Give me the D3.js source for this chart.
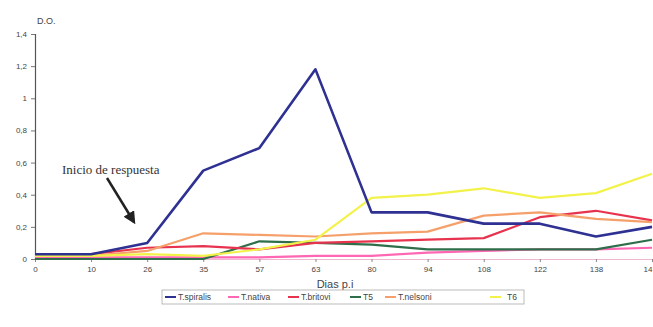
<!DOCTYPE html>
<html><head><meta charset="utf-8">
<script src="https://cdn.jsdelivr.net/npm/d3@7"></script>
<style>body{margin:0;background:#fff;overflow:hidden}</style>
</head><body><svg id="c" width="653" height="327"></svg>
<script>
const categories = ["0","10","26","35","57","63","80","94","108","122","138","14"];
const seriesNames = ["T.spiralis","T.nativa","T.britovi","T5","T.nelsoni","T6"];
const tSpiralis = [0.03,0.03,0.10,0.55,0.69,1.18,0.29,0.29,0.22,0.22,0.14,0.20];
const tNativa   = [0.01,0.01,0.01,0.01,0.01,0.02,0.02,0.04,0.05,0.06,0.06,0.07];
const tBritovi  = [0.02,0.03,0.07,0.08,0.06,0.10,0.11,0.12,0.13,0.26,0.30,0.24];
const t5        = [0.00,0.00,0.00,0.00,0.11,0.10,0.09,0.06,0.06,0.06,0.06,0.12];
const tNelsoni  = [0.02,0.02,0.05,0.16,0.15,0.14,0.16,0.17,0.27,0.29,0.25,0.23];
const t6        = [0.02,0.02,0.03,0.02,0.06,0.12,0.38,0.40,0.44,0.38,0.41,0.53];
const yTicks = [0,0.2,0.4,0.6,0.8,1,1.2,1.4];
const colors = ["#2e3192","#ff66b3","#e8334f","#2f6e4a","#f5a06a","#f2f24a"];
const allSeries = [tSpiralis,tNativa,tBritovi,t5,tNelsoni,t6];

const svg = d3.select("#c");
const x = d3.scalePoint().domain(categories).range([35,652]);
const y = d3.scaleLinear().domain([0,1.4]).range([259,34]);

// y axis
const yAxis = svg.append("g").attr("transform","translate(35,0)")
  .call(d3.axisLeft(y).tickValues(yTicks).tickSize(4).tickFormat(d=>String(d).replace(".",",")));
yAxis.select(".domain").attr("stroke","#555").attr("stroke-width",1.2);
yAxis.selectAll(".tick line").attr("stroke","#777");
yAxis.selectAll("text").attr("font-family","Liberation Sans, Arial").attr("font-size",8).attr("fill","#444").attr("x",-8);

// x axis
const xAxis = svg.append("g").attr("transform","translate(0,259)")
  .call(d3.axisBottom(x).tickSize(3));
xAxis.select(".domain").attr("stroke","#f0b8d0").attr("stroke-width",1);
xAxis.selectAll(".tick line").attr("stroke","#888");
xAxis.selectAll("text").attr("font-family","Liberation Sans, Arial").attr("font-size",8).attr("fill","#444").attr("dy","0.9em")
  .attr("text-anchor",(d,i)=>i===categories.length-1?"end":"middle");

// lines (draw order: bottom ones first, spiralis last)
const line = d3.line().x((d,i)=>x(categories[i])).y(d=>y(d));
const order = [1,3,2,4,5,0];
order.forEach(k=>{
  svg.append("path").datum(allSeries[k]).attr("d",line)
    .attr("fill","none").attr("stroke",colors[k])
    .attr("stroke-width",k===0?2.6:2.2).attr("stroke-linejoin","round");
});

// labels
svg.append("text").attr("x",37).attr("y",24).text("D.O.")
  .attr("font-family","Liberation Sans, Arial").attr("font-size",9).attr("fill","#444");
svg.append("text").attr("x",335).attr("y",288).attr("text-anchor","middle").text("Dias p.i")
  .attr("font-family","Liberation Sans, Arial").attr("font-size",11).attr("fill","#444");

// annotation
svg.append("text").attr("x",62).attr("y",174).text("Inicio de respuesta")
  .attr("font-family","Liberation Serif, Times New Roman").attr("font-size",13).attr("fill","#333");
const defs = svg.append("defs");
defs.append("marker").attr("id","ah").attr("viewBox","0 0 10 10").attr("refX",8).attr("refY",5)
  .attr("markerWidth",5).attr("markerHeight",5).attr("orient","auto")
  .append("path").attr("d","M0,0 L10,5 L0,10 Z").attr("fill","#222");
svg.append("line").attr("x1",107).attr("y1",178).attr("x2",134).attr("y2",222)
  .attr("stroke","#222").attr("stroke-width",2.5).attr("marker-end","url(#ah)");

// legend
const lg = svg.append("g");
lg.append("rect").attr("x",162).attr("y",290).attr("width",362).attr("height",14)
  .attr("fill","#fff").attr("stroke","#aaa").attr("stroke-width",0.8);
const legX = [165,228,288,350,385,490];
seriesNames.forEach((n,i)=>{
  lg.append("line").attr("x1",legX[i]).attr("x2",legX[i]+11).attr("y1",297).attr("y2",297)
    .attr("stroke",colors[i]).attr("stroke-width",2);
  lg.append("text").attr("x",legX[i]+13+(i===5?4:0)).attr("y",300).text(n)
    .attr("font-family","Liberation Sans, Arial").attr("font-size",8.5).attr("fill","#444");
});
</script></body></html>
